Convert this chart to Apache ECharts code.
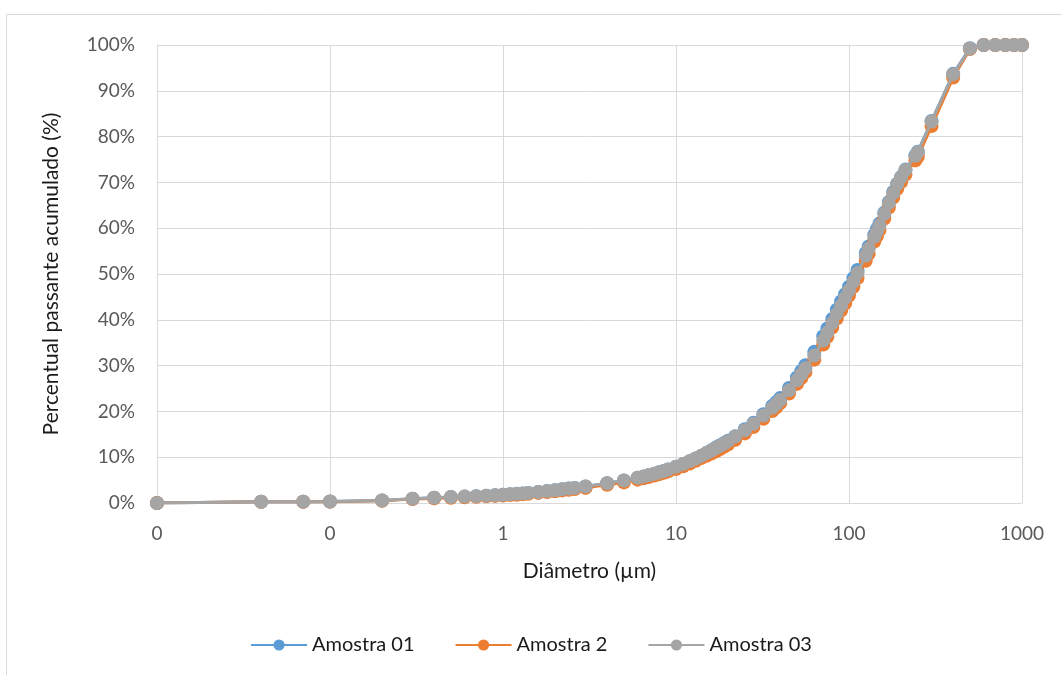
<!DOCTYPE html>
<html>
<head>
<meta charset="utf-8">
<script src="https://cdn.jsdelivr.net/npm/echarts@6/dist/echarts.min.js"></script>
<style>html,body{margin:0;padding:0;background:#fff;}#c{width:1062px;height:675px;}</style>
</head>
<body>
<div id="c"></div>
<script>
const sizes = [0.01, 0.04, 0.07, 0.1, 0.2, 0.3, 0.4, 0.5, 0.6, 0.7, 0.8, 0.9,
  1, 1.1, 1.2, 1.3, 1.4, 1.6, 1.8, 2, 2.2, 2.4, 2.6, 3,
  4, 5, 6, 6.5, 7, 7.5, 8, 8.5, 9,
  10, 11, 12, 13, 14, 15, 16, 17, 18, 19, 20,
  22, 25, 28, 32, 36, 38, 40, 45, 50, 53, 56, 63, 71, 75, 80, 85, 90, 95,
  100, 106, 112, 125, 130, 140, 145, 150, 160, 170, 180, 190, 200, 212, 242, 250, 300, 400, 500,
  600, 700, 800, 900, 1000];

const amostra01 = [0, 0.28, 0.3, 0.32, 0.55, 0.95, 1.15, 1.3, 1.4, 1.5, 1.6, 1.7,
  1.8, 1.9, 2.0, 2.1, 2.2, 2.4, 2.6, 2.8, 3.0, 3.15, 3.3, 3.6,
  4.3, 4.9, 5.5, 5.8, 6.1, 6.4, 6.7, 7.0, 7.3,
  7.9, 8.5, 9.1, 9.7, 10.3, 10.9, 11.5, 12.1, 12.6, 13.1, 13.6,
  14.6, 16.1, 17.5, 19.4, 21.2, 22.0, 22.9, 25.1, 27.4, 28.8, 30.1, 33.0, 36.4, 38.1, 40.2, 42.2, 44.0, 45.6,
  47.2, 49.1, 50.9, 54.6, 56.0, 58.6, 59.8, 61.0, 63.4, 65.7, 67.9, 69.7, 71.2, 72.8, 75.9, 76.7, 83.4, 93.7, 99.3,
  100, 100, 100, 100, 100];

const amostra2 = [0, 0.25, 0.27, 0.29, 0.5, 0.85, 1.0, 1.15, 1.25, 1.35, 1.45, 1.55,
  1.65, 1.72, 1.8, 1.9, 2.0, 2.2, 2.4, 2.55, 2.75, 2.9, 3.05, 3.3,
  4.0, 4.5, 5.1, 5.4, 5.7, 6.0, 6.3, 6.6, 6.9,
  7.4, 8.0, 8.6, 9.2, 9.8, 10.3, 10.8, 11.3, 11.8, 12.3, 12.8,
  13.8, 15.2, 16.6, 18.4, 20.1, 20.9, 21.8, 23.9, 26.0, 27.3, 28.6, 31.3, 34.6, 36.3, 38.3, 40.3, 42.0, 43.6,
  45.3, 47.2, 49.1, 52.9, 54.4, 57.1, 58.3, 59.6, 62.1, 64.5, 66.7, 68.6, 70.1, 71.7, 74.8, 75.6, 82.3, 92.9, 99.1,
  100, 100, 100, 100, 100];

const amostra03 = [0, 0.28, 0.3, 0.32, 0.55, 0.95, 1.15, 1.3, 1.4, 1.5, 1.6, 1.7,
  1.8, 1.9, 2.0, 2.1, 2.2, 2.4, 2.6, 2.8, 3.0, 3.15, 3.3, 3.6,
  4.3, 4.9, 5.5, 5.8, 6.1, 6.4, 6.7, 7.0, 7.3,
  7.9, 8.5, 9.1, 9.7, 10.3, 10.9, 11.4, 12.0, 12.5, 13.0, 13.5,
  14.5, 15.9, 17.3, 19.1, 20.8, 21.6, 22.5, 24.6, 26.8, 28.1, 29.4, 32.2, 35.5, 37.2, 39.3, 41.3, 43.1, 44.8,
  46.4, 48.3, 50.2, 54.0, 55.5, 58.1, 59.3, 60.6, 63.1, 65.5, 67.7, 69.6, 71.1, 72.7, 75.8, 76.6, 83.3, 93.6, 99.2,
  100, 100, 100, 100, 100];

const seriesNames = ['Amostra 01', 'Amostra 2', 'Amostra 03'];
const seriesColors = ['#5b9bd5', '#ed7d31', '#a5a5a5'];
const seriesValues = [amostra01, amostra2, amostra03];

const FONT = 'Lato';
const chart = echarts.init(document.getElementById('c'), null, {renderer: 'canvas'});

chart.setOption({
  animation: false,
  backgroundColor: '#fff',
  graphic: [{
    type: 'rect',
    shape: {x: 6.5, y: 14.5, width: 1200, height: 800},
    style: {fill: 'none', stroke: '#d9d9d9', lineWidth: 1},
    silent: true, z: -1
  }],
  grid: {left: 157, right: 40, top: 45, bottom: 172, containLabel: false},
  legend: {
    bottom: 15,
    left: 'center',
    itemWidth: 56,
    itemHeight: 14,
    itemGap: 40,
    data: seriesNames,
    textStyle: {fontFamily: FONT, fontSize: 20, color: '#1a1a1a'}
  },
  xAxis: {
    type: 'log',
    logBase: 10,
    min: 0.01,
    max: 1000,
    name: 'Diâmetro (µm)',
    nameLocation: 'middle',
    nameGap: 58,
    nameTextStyle: {fontFamily: FONT, fontSize: 21, color: '#1a1a1a'},
    axisLine: {show: true, lineStyle: {color: '#d9d9d9', width: 1}},
    axisTick: {show: false},
    minorTick: {show: false},
    axisLabel: {
      fontFamily: FONT, fontSize: 19, color: '#595959', margin: 21,
      formatter: function (v) { return String(Math.round(v)); }
    },
    splitLine: {show: true, lineStyle: {color: '#d9d9d9', width: 1}}
  },
  yAxis: {
    type: 'value',
    min: 0,
    max: 100,
    interval: 10,
    name: 'Percentual passante acumulado (%)',
    nameLocation: 'middle',
    nameGap: 95,
    nameTextStyle: {fontFamily: FONT, fontSize: 21, color: '#1a1a1a'},
    axisLine: {show: true, lineStyle: {color: '#d9d9d9', width: 1}},
    axisTick: {show: false},
    axisLabel: {fontFamily: FONT, fontSize: 19, color: '#595959', margin: 22, formatter: '{value}%'},
    splitLine: {show: true, lineStyle: {color: '#d9d9d9', width: 1}}
  },
  series: seriesNames.map(function (name, k) {
    return {
      name: name,
      type: 'line',
      data: sizes.map(function (s, i) { return [s, seriesValues[k][i]]; }),
      symbol: 'circle',
      symbolSize: 14,
      showAllSymbol: true,
      lineStyle: {color: seriesColors[k], width: 3},
      itemStyle: {color: seriesColors[k]},
      z: 2 + k
    };
  })
});
</script>
</body>
</html>
